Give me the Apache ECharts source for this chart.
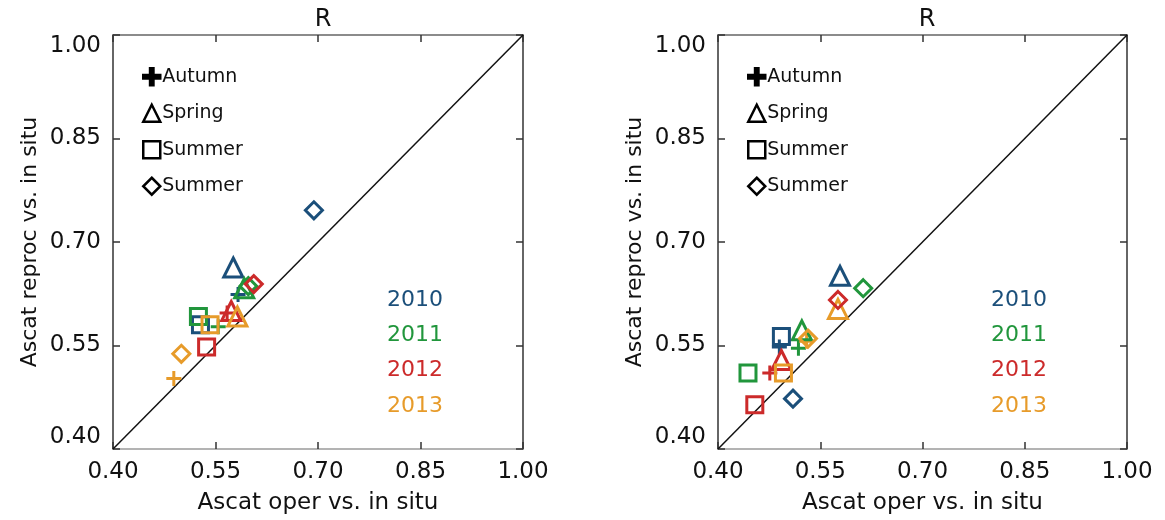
<!DOCTYPE html>
<html>
<head>
<meta charset="utf-8">
<script src="https://cdn.jsdelivr.net/npm/echarts@6/dist/echarts.min.js"></script>
<style>html,body{margin:0;padding:0;background:#fff;}#c{width:1165px;height:520px;}</style>
</head>
<body>
<div id="c"></div>
<script>
// ---------- data ----------
const years = ['2010', '2011', '2012', '2013'];
const yearColors = ['#1b4f7a', '#21963c', '#cc2a2a', '#e79b2a'];
const seasonNames = ['Autumn', 'Spring', 'Summer', 'Summer'];
const axisTicks = [0.40, 0.55, 0.70, 0.85, 1.00];
const xTitle = 'Ascat oper vs. in situ';
const yTitle = 'Ascat reproc vs. in situ';
const panelTitle = 'R';
const diagonal = [[0.4, 0.4], [1.0, 1.0]];

// each array: one [oper, reproc] point per year (2010, 2011, 2012, 2013)
const leftAutumn   = [[0.583, 0.624], [0.554, 0.577], [0.567, 0.597], [0.489, 0.502]];
const leftSpring   = [[0.576, 0.663], [0.592, 0.633], [0.573, 0.600], [0.582, 0.592]];
const leftSummerSq = [[0.528, 0.580], [0.525, 0.592], [0.537, 0.548], [0.542, 0.580]];
const leftSummerDi = [[0.694, 0.746], [0.598, 0.636], [0.606, 0.639], [0.500, 0.538]];

const rightAutumn   = [[0.490, 0.548], [0.518, 0.546], [0.476, 0.510], [0.530, 0.556]];
const rightSpring   = [[0.579, 0.651], [0.523, 0.572], [0.493, 0.529], [0.576, 0.603]];
const rightSummerSq = [[0.493, 0.563], [0.444, 0.510], [0.454, 0.464], [0.496, 0.510]];
const rightSummerDi = [[0.510, 0.473], [0.613, 0.633], [0.576, 0.616], [0.532, 0.560]];

// ---------- chart ----------
const FONT = 'DejaVu Sans';
const plusPath = 'path://M4,0 H6 V4 H10 V6 H6 V10 H4 V6 H0 V4 H4 Z';
const symbols = [plusPath, 'triangle', 'rect', 'diamond'];
const symSizes = [15, 19, 16, 17];
const legendKeys = ['Autumn', 'Spring', 'Summer', 'Summer ']; // second "Summer" key shown as "Summer"

const grids = [
  {left: 113, top: 35, width: 410, height: 414},
  {left: 718, top: 35, width: 409, height: 414}
];

function mkAxes(gi) {
  const xs = [], ys = [];
  xs.push({
    gridIndex: gi, type: 'value', min: 0.4, max: 1.0, interval: 0.15, position: 'bottom',
    axisLine: {show: true, onZero: false, lineStyle: {color: '#9a9a9a', width: 1.5}},
    axisTick: {show: true, inside: true, length: 7, lineStyle: {color: '#333', width: 1.5}},
    axisLabel: {show: true, margin: 12, fontFamily: FONT, fontSize: 23, color: '#111',
      formatter: v => v.toFixed(2)},
    splitLine: {show: false},
    name: xTitle, nameLocation: 'middle', nameGap: 43,
    nameTextStyle: {fontFamily: FONT, fontSize: 23, color: '#111'}
  });
  xs.push({
    gridIndex: gi, type: 'value', min: 0.4, max: 1.0, interval: 0.15, position: 'top',
    axisLine: {show: true, onZero: false, lineStyle: {color: '#666', width: 1.5}},
    axisTick: {show: true, inside: true, length: 7, lineStyle: {color: '#333', width: 1.5}},
    axisLabel: {show: false}, splitLine: {show: false}
  });
  ys.push({
    gridIndex: gi, type: 'value', min: 0.4, max: 1.0, interval: 0.15, position: 'left',
    axisLine: {show: true, onZero: false, lineStyle: {color: '#333', width: 1.5}},
    axisTick: {show: true, inside: true, length: 7, lineStyle: {color: '#333', width: 1.5}},
    axisLabel: {show: true, margin: 12, fontFamily: FONT, fontSize: 23, color: '#111',
      verticalAlignMinLabel: 'bottom', verticalAlignMaxLabel: 'top',
      formatter: v => v.toFixed(2)},
    splitLine: {show: false},
    name: yTitle, nameLocation: 'middle', nameGap: 72, nameRotate: 90,
    nameTextStyle: {fontFamily: FONT, fontSize: 22, color: '#111'}
  });
  ys.push({
    gridIndex: gi, type: 'value', min: 0.4, max: 1.0, interval: 0.15, position: 'right',
    axisLine: {show: true, onZero: false, lineStyle: {color: '#333', width: 1.5}},
    axisTick: {show: true, inside: true, length: 7, lineStyle: {color: '#333', width: 1.5}},
    axisLabel: {show: false}, splitLine: {show: false}
  });
  return {xs, ys};
}

const a0 = mkAxes(0), a1 = mkAxes(1);
const xAxis = a0.xs.concat(a1.xs);   // indices 0,1 (grid0) 2,3 (grid1)
const yAxis = a0.ys.concat(a1.ys);

const series = [];
function addPanel(gi, sets) {
  const xi = gi * 2, yi = gi * 2;
  series.push({
    type: 'line', xAxisIndex: xi, yAxisIndex: yi, data: diagonal, symbol: 'none',
    lineStyle: {color: '#111', width: 1.5}, silent: true, z: 1
  });
  sets.forEach((pts, si) => {
    const isPlus = si === 0;
    series.push({
      name: legendKeys[si], type: 'scatter', xAxisIndex: xi, yAxisIndex: yi,
      symbol: symbols[si], symbolSize: symSizes[si],
      itemStyle: isPlus ? {color: '#000', borderWidth: 0, opacity: 1}
                        : {color: 'rgba(0,0,0,0)', borderColor: '#000', borderWidth: 3, opacity: 1},
      data: pts.map((p, yi2) => ({
        value: p,
        itemStyle: isPlus ? {color: yearColors[yi2]} : {borderColor: yearColors[yi2], color: 'rgba(0,0,0,0)'}
      })),
      z: 3
    });
  });
}
addPanel(0, [leftAutumn, leftSpring, leftSummerSq, leftSummerDi]);
addPanel(1, [rightAutumn, rightSpring, rightSummerSq, rightSummerDi]);

function mkLegend(left) {
  return {
    orient: 'vertical', left: left, top: 62, itemWidth: 17, itemHeight: 17, itemGap: 17,
    data: legendKeys, selectedMode: false,
    formatter: n => n.trim(),
    itemStyle: {borderWidth: 2.5, borderColor: '#000'},
    textStyle: {fontFamily: FONT, fontSize: 19, color: '#111', padding: [0, 0, 0, -3]}
  };
}

const graphics = [];
[318, 922].forEach(cx => {
  years.forEach((yr, i) => {
    graphics.push({
      type: 'text', left: cx + 69, top: 289 + i * 35.3,
      style: {text: yr, fill: yearColors[i], font: '22px "' + FONT + '"'}
    });
  });
});

const option = {
  backgroundColor: '#fff',
  animation: false,
  title: [
    {text: panelTitle, left: 318, top: 3, textAlign: 'center',
      textStyle: {fontFamily: FONT, fontSize: 24, fontWeight: 'normal', color: '#111'}},
    {text: panelTitle, left: 922, top: 3, textAlign: 'center',
      textStyle: {fontFamily: FONT, fontSize: 24, fontWeight: 'normal', color: '#111'}}
  ],
  grid: grids,
  xAxis: xAxis,
  yAxis: yAxis,
  legend: [mkLegend(137), mkLegend(742)],
  graphic: graphics,
  series: series
};

const chart = echarts.init(document.getElementById('c'), null, {renderer: 'canvas'});
chart.setOption(option);
</script>
</body>
</html>
